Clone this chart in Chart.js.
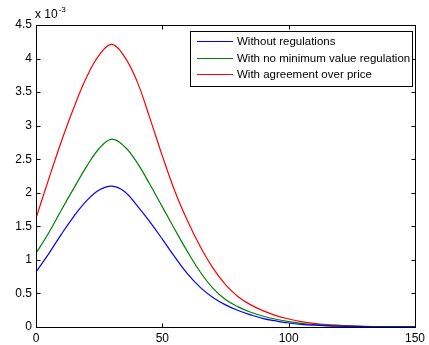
<!DOCTYPE html>
<html>
<head>
<meta charset="utf-8">
<script src="https://cdn.jsdelivr.net/npm/chart.js@4/dist/chart.umd.min.js"></script>
<style>
html,body{margin:0;padding:0;background:#fff;}
#wrap{width:429px;height:345px;position:relative;}
</style>
</head>
<body>
<div id="wrap"><canvas id="c" width="429" height="345"></canvas></div>
<script>
// x values
const xValues = [0,5,10,15,20,25,30,35,40,45,50,55,60,65,70,75,80,85,90,95,100,105,110,115,120,125,130,135,140,145,150];
// series values (in units of 10^-3)
const withoutRegulations = [0.82,1.09,1.38,1.65,1.88,2.04,2.10,2.02,1.81,1.57,1.31,1.04,0.79,0.59,0.44,0.33,0.245,0.18,0.125,0.09,0.06,0.04,0.027,0.018,0.012,0.008,0.005,0.003,0.002,0.001,0.0007];
const noMinimumValue = [1.10,1.40,1.74,2.07,2.39,2.66,2.80,2.69,2.45,2.13,1.79,1.45,1.12,0.82,0.58,0.41,0.30,0.22,0.16,0.115,0.08,0.055,0.037,0.025,0.016,0.01,0.007,0.004,0.003,0.002,0.001];
const agreementOverPrice = [1.62,2.20,2.76,3.27,3.72,4.05,4.21,4.03,3.66,3.12,2.55,2.02,1.58,1.20,0.88,0.63,0.45,0.33,0.24,0.17,0.12,0.08,0.055,0.037,0.025,0.016,0.01,0.007,0.005,0.003,0.002];
const seriesLabels = ['Without regulations','With no minimum value regulation','With agreement over price'];
const seriesColors = ['#0000ff','#008000','#ff0000'];
const xTicks = [0,50,100,150];
const yTicks = [0,0.5,1,1.5,2,2.5,3,3.5,4,4.5];
const exponentLabel = ['x 10','-3'];

const FONT = 'Liberation Sans, Arial, sans-serif';

function toPts(vals){ return xValues.map((x,i)=>({x:x,y:vals[i]})); }

const boxPlugin = {
  id:'box',
  afterDraw(chart){
    const ctx = chart.ctx, a = chart.chartArea;
    const xs = chart.scales.x, ys = chart.scales.y;
    ctx.save();
    ctx.strokeStyle = '#000';
    ctx.lineWidth = 1;
    const L = Math.round(a.left)+0.5, R = Math.round(a.right)+0.5, T = Math.round(a.top)+0.5, B = Math.round(a.bottom)+0.5;
    ctx.strokeRect(L, T, R-L, B-T);
    const tl = 4;
    ctx.beginPath();
    xTicks.forEach(v=>{
      const px = Math.round(xs.getPixelForValue(v))+0.5;
      ctx.moveTo(px,B); ctx.lineTo(px,B-tl);
      ctx.moveTo(px,T); ctx.lineTo(px,T+tl);
    });
    yTicks.forEach(v=>{
      const py = Math.round(ys.getPixelForValue(v))+0.5;
      ctx.moveTo(L,py); ctx.lineTo(L+tl,py);
      ctx.moveTo(R,py); ctx.lineTo(R-tl,py);
    });
    ctx.stroke();
    // exponent label
    ctx.fillStyle = '#000';
    ctx.font = '12px ' + FONT;
    ctx.textBaseline = 'alphabetic';
    ctx.textAlign = 'left';
    ctx.fillText(exponentLabel[0], 35, 18);
    const w = ctx.measureText(exponentLabel[0]).width;
    ctx.font = '8px ' + FONT;
    ctx.fillText(exponentLabel[1], 35 + w + 1, 12);
    // legend
    const lx = 190.5, ly = 31.5, lw = 222, lh = 55;
    ctx.fillStyle = '#fff';
    ctx.fillRect(lx, ly, lw, lh);
    ctx.strokeStyle = '#000';
    ctx.strokeRect(lx, ly, lw, lh);
    ctx.font = '11.5px ' + FONT;
    ctx.textBaseline = 'middle';
    seriesLabels.forEach((lab,i)=>{
      const y = Math.floor(ly + 10 + i*16.5);
      ctx.fillStyle = seriesColors[i];
      ctx.fillRect(197, y, 36, 1);
      ctx.fillStyle = '#000';
      ctx.fillText(lab, 237, y + 0.5);
    });
    ctx.restore();
  }
};

new Chart(document.getElementById('c'), {
  type:'line',
  data:{
    datasets:[
      {label:seriesLabels[0], data:toPts(withoutRegulations), borderColor:seriesColors[0]},
      {label:seriesLabels[1], data:toPts(noMinimumValue), borderColor:seriesColors[1]},
      {label:seriesLabels[2], data:toPts(agreementOverPrice), borderColor:seriesColors[2]}
    ]
  },
  options:{
    responsive:false,
    animation:false,
    devicePixelRatio:1,
    layout:{padding:{top:25,right:10,left:0,bottom:0}},
    elements:{
      point:{radius:0},
      line:{borderWidth:1.2, tension:0.4, fill:false}
    },
    plugins:{legend:{display:false}, tooltip:{enabled:false}},
    scales:{
      x:{
        type:'linear', min:0, max:150,
        afterBuildTicks(s){ s.ticks = xTicks.map(v=>({value:v})); },
        afterFit(s){ s.height = 18; },
        grid:{display:false, drawTicks:false},
        border:{display:false},
        ticks:{padding:4, color:'#000', font:{family:FONT, size:12}, maxRotation:0, autoSkip:false,
               callback:(v)=>String(v)}
      },
      y:{
        type:'linear', min:0, max:4.5,
        afterBuildTicks(s){ s.ticks = yTicks.map(v=>({value:v})); },
        afterFit(s){ s.width = 36; },
        grid:{display:false, drawTicks:false},
        border:{display:false},
        ticks:{padding:4, color:'#000', font:{family:FONT, size:12}, autoSkip:false,
               callback:(v)=>String(v)}
      }
    }
  },
  plugins:[boxPlugin]
});
</script>
</body>
</html>
